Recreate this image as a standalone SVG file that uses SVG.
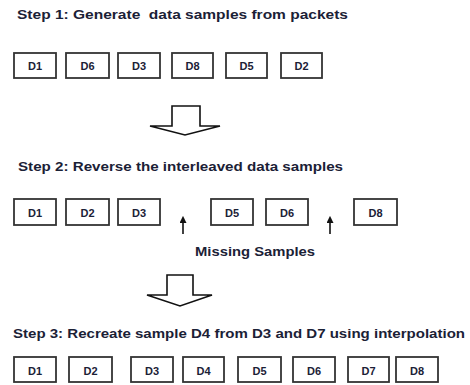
<svg xmlns="http://www.w3.org/2000/svg" width="470" height="385" viewBox="0 0 470 385">
<defs>
<style>
.t{font-family:"Liberation Sans",Arial,sans-serif;font-weight:bold;font-size:13px;fill:#1b2136;white-space:pre}
.box rect{fill:#fff;stroke:#333;stroke-width:1.8}
.box text{font-family:"Liberation Sans",Arial,sans-serif;font-weight:bold;font-size:11px;fill:#1b2136;text-anchor:middle}
.blk{fill:#fff;stroke:#111;stroke-width:1.6;stroke-linejoin:miter}
.sa{stroke:#111;stroke-width:1.6;fill:none}
</style>
<marker id="ah" viewBox="0 0 8 8" refX="1" refY="4" markerWidth="7" markerHeight="7" orient="auto" markerUnits="userSpaceOnUse">
<path d="M0,0 L8,4 L0,8 Z" fill="#111"/>
</marker>
</defs>
<rect width="470" height="385" fill="#fff"/>

<g id="titles">
<text id="step1" class="t" x="17" y="18.5" xml:space="preserve" textLength="331" lengthAdjust="spacingAndGlyphs">Step 1: Generate  data samples from packets</text>
<text id="step2" class="t" x="18" y="171" textLength="325" lengthAdjust="spacingAndGlyphs">Step 2: Reverse the interleaved data samples</text>
<text id="missing" class="t" x="195" y="256" textLength="120" lengthAdjust="spacingAndGlyphs">Missing Samples</text>
<text id="step3" class="t" x="13" y="338" textLength="452" lengthAdjust="spacingAndGlyphs">Step 3: Recreate sample D4 from D3 and D7 using interpolation</text>
</g>

<!-- Step 1 row -->
<g id="s1-D1" class="box"><rect x="14" y="53" width="42" height="25"/><text x="35" y="70">D1</text></g>
<g id="s1-D6" class="box"><rect x="66" y="53" width="43" height="25"/><text x="87.5" y="70">D6</text></g>
<g id="s1-D3" class="box"><rect x="118" y="53" width="42" height="25"/><text x="139" y="70">D3</text></g>
<g id="s1-D8" class="box"><rect x="172" y="53" width="41" height="25"/><text x="192.5" y="70">D8</text></g>
<g id="s1-D5" class="box"><rect x="226" y="53" width="41" height="25"/><text x="246.5" y="70">D5</text></g>
<g id="s1-D2" class="box"><rect x="281" y="53" width="41" height="25"/><text x="301.5" y="70">D2</text></g>

<!-- Step 2 row -->
<g id="s2-D1" class="box"><rect x="14" y="199" width="42" height="26"/><text x="35" y="216.5">D1</text></g>
<g id="s2-D2" class="box"><rect x="66" y="199" width="43" height="26"/><text x="87.5" y="216.5">D2</text></g>
<g id="s2-D3" class="box"><rect x="118" y="199" width="42" height="26"/><text x="139" y="216.5">D3</text></g>
<g id="s2-D5" class="box"><rect x="211" y="199" width="42" height="26"/><text x="232" y="216.5">D5</text></g>
<g id="s2-D6" class="box"><rect x="266" y="199" width="42" height="26"/><text x="287" y="216.5">D6</text></g>
<g id="s2-D8" class="box"><rect x="354" y="199" width="43" height="26"/><text x="375.5" y="216.5">D8</text></g>

<!-- Step 3 row -->
<g id="s3-D1" class="box"><rect x="14" y="357" width="42" height="25"/><text x="35" y="375">D1</text></g>
<g id="s3-D2" class="box"><rect x="69" y="357" width="43" height="25"/><text x="90.5" y="375">D2</text></g>
<g id="s3-D3" class="box"><rect x="131" y="357" width="42" height="25"/><text x="152" y="375">D3</text></g>
<g id="s3-D4" class="box"><rect x="183" y="357" width="41" height="25"/><text x="203.5" y="375">D4</text></g>
<g id="s3-D5" class="box"><rect x="238" y="357" width="43" height="25"/><text x="259.5" y="375">D5</text></g>
<g id="s3-D6" class="box"><rect x="293" y="357" width="42" height="25"/><text x="314" y="375">D6</text></g>
<g id="s3-D7" class="box"><rect x="348" y="357" width="41" height="25"/><text x="368.5" y="375">D7</text></g>
<g id="s3-D8" class="box"><rect x="396" y="357" width="42" height="25"/><text x="417" y="375">D8</text></g>

<g id="connectors">
<polygon class="blk" points="172,106 200,106 200,126 220,126 185,135 150,126 172,126"/>
<polygon class="blk" points="167,275 193,275 193,295 212,295 180,306 147,295 167,295"/>
<line class="sa" x1="183" y1="234" x2="183" y2="222" marker-end="url(#ah)"/>
<line class="sa" x1="330" y1="234" x2="330" y2="222" marker-end="url(#ah)"/>
</g>
</svg>
